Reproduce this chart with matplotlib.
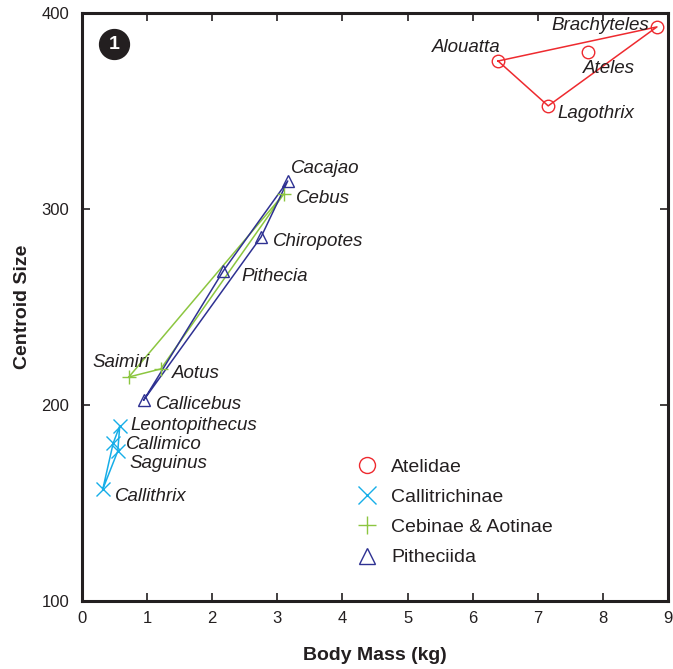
import matplotlib
matplotlib.use("Agg")
import matplotlib.pyplot as plt
from matplotlib.lines import Line2D
from matplotlib import font_manager

# ---- data: body mass (kg) and centroid size per genus ----
atelidae_names = ["Brachyteles", "Ateles", "Alouatta", "Lagothrix"]
atelidae_mass = [8.83, 7.77, 6.39, 7.16]
atelidae_size = [392.9, 380.0, 375.5, 352.6]

callitrichinae_names = ["Leontopithecus", "Callimico", "Saguinus", "Callithrix"]
callitrichinae_mass = [0.58, 0.48, 0.55, 0.32]
callitrichinae_size = [189.3, 180.6, 176.5, 157.1]

cebinae_names = ["Cebus", "Saimiri", "Aotus"]
cebinae_mass = [3.10, 0.72, 1.21]
cebinae_size = [307.7, 214.3, 218.4]

pitheciidae_names = ["Cacajao", "Chiropotes", "Pithecia", "Callicebus"]
pitheciidae_mass = [3.16, 2.75, 2.17, 0.95]
pitheciidae_size = [314.3, 285.7, 268.4, 202.6]

group_labels = ["Atelidae", "Callitrichinae", "Cebinae & Aotinae", "Pitheciida"]
x_ticks = [0, 1, 2, 3, 4, 5, 6, 7, 8, 9]
y_ticks = [100, 200, 300, 400]

# label placement: (dx, dy) in pixels, horizontal alignment
label_offsets = {
    "Brachyteles": (-8, 1, "right"), "Ateles": (-5, -16, "left"),
    "Alouatta": (2, 14, "right"), "Lagothrix": (9, -8, "left"),
    "Cacajao": (3, 12, "left"), "Cebus": (12, -5, "left"),
    "Chiropotes": (12, -4, "left"), "Pithecia": (18, -6, "left"),
    "Saimiri": (21, 14, "right"), "Aotus": (11, -5, "left"),
    "Callicebus": (12, -5, "left"), "Leontopithecus": (11, 0, "left"),
    "Callimico": (13, -1, "left"), "Saguinus": (12, -12, "left"),
    "Callithrix": (12, -7, "left"),
}

available = {f.name for f in font_manager.fontManager.ttflist}
base_font = "Liberation Sans" if "Liberation Sans" in available else "DejaVu Sans"
narrow_font = "Liberation Sans Narrow" if "Liberation Sans Narrow" in available else base_font
plt.rcParams["font.family"] = [base_font, "DejaVu Sans"]


def convex_hull(xs, ys):
    pts = sorted(zip(xs, ys))

    def cross(o, a, b):
        return (a[0] - o[0]) * (b[1] - o[1]) - (a[1] - o[1]) * (b[0] - o[0])

    lower, upper = [], []
    for p in pts:
        while len(lower) >= 2 and cross(lower[-2], lower[-1], p) <= 0:
            lower.pop()
        lower.append(p)
    for p in reversed(pts):
        while len(upper) >= 2 and cross(upper[-2], upper[-1], p) <= 0:
            upper.pop()
        upper.append(p)
    hull = lower[:-1] + upper[:-1]
    hull.append(hull[0])
    return [p[0] for p in hull], [p[1] for p in hull]


fig = plt.figure(figsize=(6.73, 6.69), dpi=100)
ax = fig.add_axes([0.1218, 0.1016, 0.8708, 0.879])

groups = [
    (atelidae_names, atelidae_mass, atelidae_size, "#ee2a2f", "o"),
    (callitrichinae_names, callitrichinae_mass, callitrichinae_size, "#16aee8", "x"),
    (cebinae_names, cebinae_mass, cebinae_size, "#8cc640", "+"),
    (pitheciidae_names, pitheciidae_mass, pitheciidae_size, "#2e3192", "^"),
]

handles = []
for (names, xs, ys, color, marker), glabel in zip(groups, group_labels):
    hx, hy = convex_hull(xs, ys)
    ax.plot(hx, hy, color=color, lw=1.1, zorder=2)
    ms = 10 if marker in ("x", "+") else 9
    ax.plot(xs, ys, linestyle="none", marker=marker, markersize=ms,
            markerfacecolor="none", markeredgecolor=color, markeredgewidth=1.0,
            zorder=3)
    for n, x, y in zip(names, xs, ys):
        dx, dy, ha = label_offsets[n]
        ax.annotate(n, (x, y), xytext=(dx, dy), textcoords="offset pixels",
                    ha=ha, va="center", fontsize=13.5, style="italic",
                    color="#231f20")
    handles.append(Line2D([], [], linestyle="none", marker=marker,
                          markersize=(13 if marker in ("x", "+") else 11.5),
                          markerfacecolor="none", markeredgecolor=color,
                          markeredgewidth=1.0, label=glabel))

ax.set_xlim(0, 9)
ax.set_ylim(100, 400)
ax.set_xticks(x_ticks)
ax.set_yticks(y_ticks)
ax.tick_params(direction="in", length=6, width=1.2, top=True, right=True,
               labelsize=12, colors="#231f20")
ax.tick_params(axis="x", pad=7)
ax.tick_params(axis="y", pad=9)
for lab in ax.get_xticklabels() + ax.get_yticklabels():
    lab.set_fontfamily(narrow_font)
for s in ax.spines.values():
    s.set_linewidth(2.2)
    s.set_color("#231f20")

ax.set_xlabel("Body Mass (kg)", fontsize=14, fontweight="bold",
              fontfamily=narrow_font, labelpad=15, color="#231f20")
ax.set_ylabel("Centroid Size", fontsize=14, fontweight="bold",
              fontfamily=narrow_font, labelpad=7.5, color="#231f20")

leg = ax.legend(handles=handles, loc="upper left",
                bbox_to_anchor=(0.436, 0.272), frameon=False, fontsize=14,
                handlelength=1.2, handletextpad=0.65, labelspacing=0.64)
for t in leg.get_texts():
    t.set_color("#231f20")

# panel badge
ax.plot([0.0546], [0.947], transform=ax.transAxes, marker="o", markersize=21.5,
        color="#231f20", zorder=5, clip_on=False)
ax.text(0.0546, 0.947, "1", transform=ax.transAxes, ha="center", va="center",
        color="white", fontsize=14, fontweight="bold", zorder=6)

fig.savefig("out.png", dpi=100)
